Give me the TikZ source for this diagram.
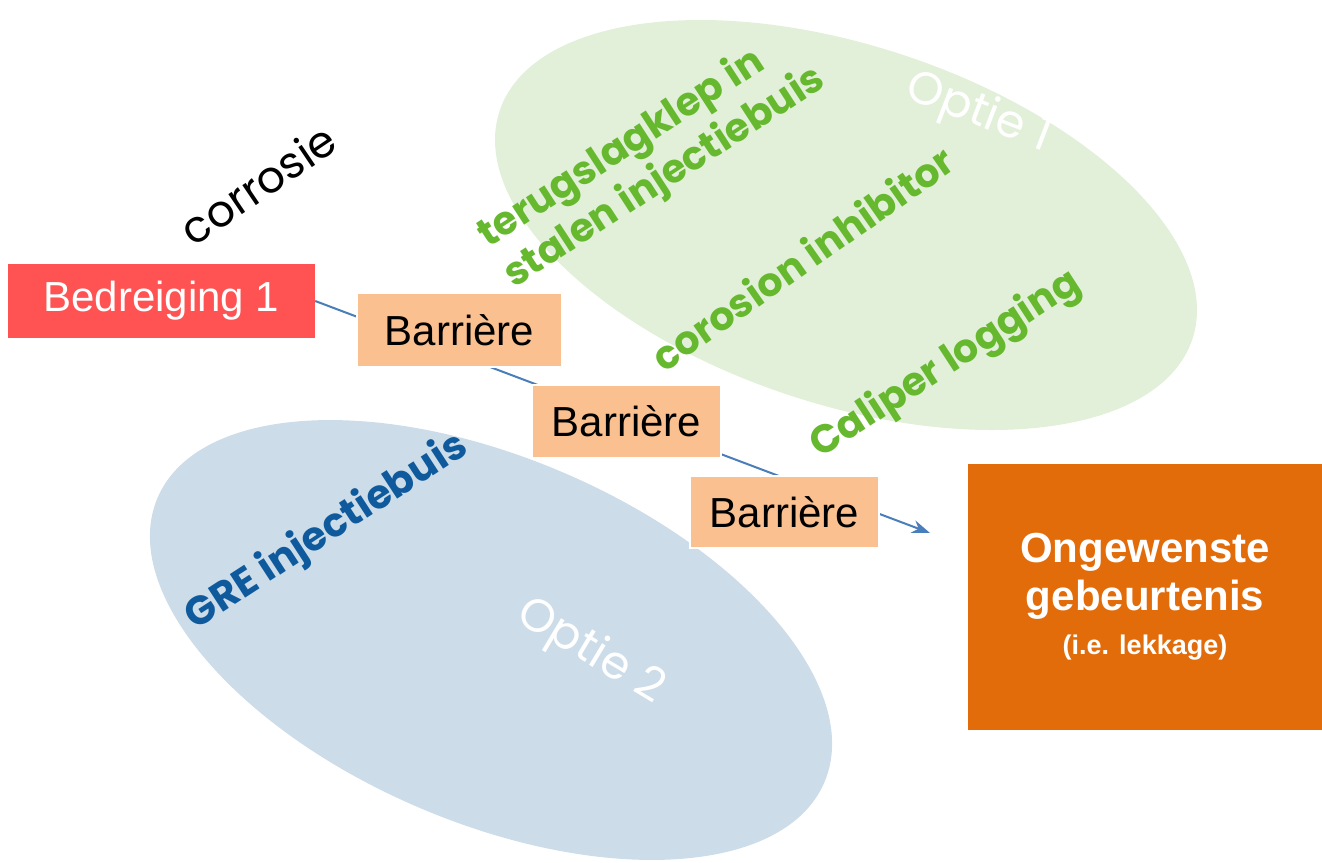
\documentclass[tikz,border=0pt]{standalone}
\usepackage{fontspec}
\setmainfont{Liberation Sans}
\newfontfamily\gothic{Poppins}
\usetikzlibrary{arrows.meta}
\definecolor{gell}{HTML}{E2F0D9}
\definecolor{bell}{HTML}{CCDCE9}
\definecolor{redbox}{HTML}{FF5353}
\definecolor{barbox}{HTML}{FAC090}
\definecolor{orbox}{HTML}{E36C0A}
\definecolor{arrowblue}{HTML}{4A7EBB}
\definecolor{gtext}{HTML}{66B82E}
\definecolor{btext}{HTML}{0E5A9C}
\tikzset{
  boxtext/.style={font=\fontsize{42}{50}\selectfont, inner sep=0pt, anchor=center},
  threat/.style={boxtext, fill=redbox, text=white, minimum width=307pt, minimum height=74pt},
  barrier/.style={boxtext, fill=barbox, draw=white, line width=2.5pt, text=black, minimum width=189pt, minimum height=73pt},
  event/.style={fill=orbox, text=white, inner sep=0pt, minimum width=354pt, minimum height=266pt, align=center, font=\bfseries\fontsize{42}{48}\selectfont},
  gtxt/.style={text=gtext, font=\gothic\bfseries\fontsize{39.5}{48}\selectfont, inner sep=0pt, align=left},
  btxt/.style={text=btext, font=\gothic\bfseries\fontsize{40}{48}\selectfont, inner sep=0pt},
  optie/.style={text=white, font=\gothic\fontsize{46}{54}\selectfont, inner sep=0pt},
  plain/.style={text=black, font=\gothic\fontsize{44}{52}\selectfont, inner sep=0pt},
  conn/.style={draw=arrowblue, line width=2pt, -{Stealth[length=18pt,width=13pt]}}
}
\begin{document}
\begin{tikzpicture}[x=1pt,y=-1pt]
\useasboundingbox (0,0) rectangle (1322,862);
% ellipses
\begin{scope}[shift={(846,225)}, rotate=-18.2]
  \fill[gell] (0,0) ellipse [x radius=364.7pt, y radius=179.4pt];
\end{scope}
\begin{scope}[shift={(491,640)}, rotate=-23.1]
  \fill[bell] (0,0) ellipse [x radius=362.5pt, y radius=182.4pt];
\end{scope}
% connector
\node[threat] (b1) at (161.5,301) {Bedreiging 1};
\coordinate (endpt) at (930,533);
\draw[conn] (b1.east) -- (endpt);
% barriers
\node[barrier, minimum width=205pt, minimum height=74pt] (bar1) at (459.5,330) {Barrière};
\node[barrier] (bar2) at (626.5,421.5) {Barrière};
\node[barrier, minimum height=72pt] (bar3) at (784.5,512) {Barrière};
% event
\node[event] (ev) at (1145,597) {Ongewenste\\[0pt]gebeurtenis\\[-4pt]{\fontsize{27}{32}\selectfont (i.e. lekkage)}};
% texts
\node[plain, rotate=34] (corr) at (258,184) {corrosie};
\node[gtxt, rotate=33] (terug) at (652,158) {terugslagklep in\\stalen injectiebuis};
\node[gtxt, rotate=35] (inh) at (802,258) {corosion inhibitor};
\node[gtxt, rotate=33] (cal) at (946,365) {Caliper logging};
\node[btxt, rotate=33] (gre) at (327,532) {GRE injectiebuis};
\node[optie, rotate=-21] (op1) at (978,114) {Optie 1};
\node[optie, rotate=-31] (op2) at (590,652) {Optie 2};
\end{tikzpicture}
\end{document}
